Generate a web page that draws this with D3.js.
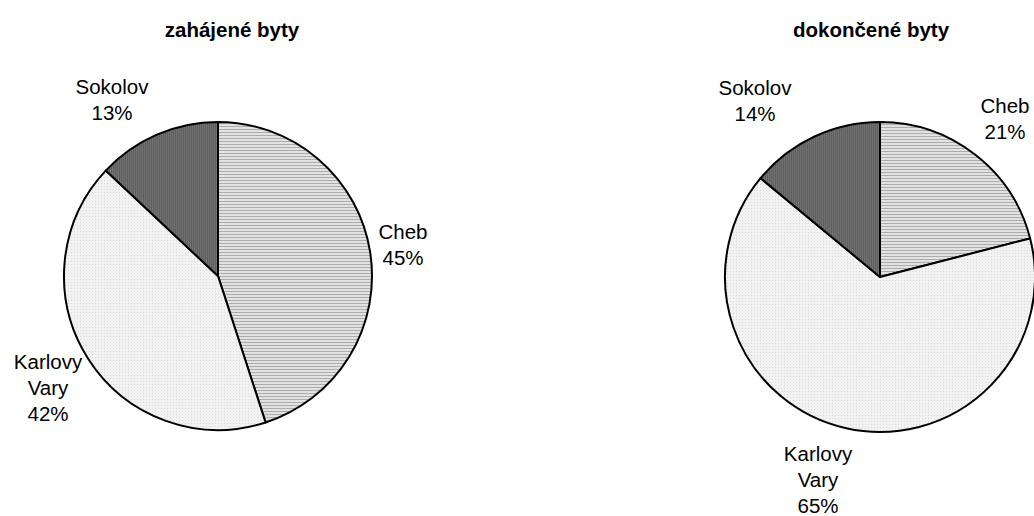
<!DOCTYPE html>
<html><head><meta charset="utf-8">
<script src="https://cdn.jsdelivr.net/npm/d3@7"></script>
<style>body{margin:0;background:#fff}svg{display:block}</style>
</head><body>
<svg id="c" width="1034" height="516"></svg>
<script>
// Data
const categories = ["Cheb", "Karlovy Vary", "Sokolov"];
const labelLines = [["Cheb"], ["Karlovy", "Vary"], ["Sokolov"]];
const startedValues = [45, 42, 13];   // zahájené byty (%)
const finishedValues = [21, 65, 14];  // dokončené byty (%)
const titles = ["zahájené byty", "dokončené byty"];

// Layout (not data)
const pies = [
  {title: titles[0], values: startedValues, cx: 218, cy: 276, r: 154, tx: 232,
   lab: [[185, -31], [-170, 112], [-106, -176]]},
  {title: titles[1], values: finishedValues, cx: 880, cy: 277, r: 155, tx: 871,
   lab: [[125, -158], [-62, 203], [-125, -176]]}
];
const FONT = "'Liberation Sans', Arial, sans-serif";

const svg = d3.select("#c");
const defs = svg.append("defs");
// Cheb: horizontal stripes
const p1 = defs.append("pattern").attr("id", "pCheb").attr("patternUnits", "userSpaceOnUse").attr("width", 4).attr("height", 3);
p1.append("rect").attr("width", 4).attr("height", 3).attr("fill", "#e2e2e2");
p1.append("rect").attr("width", 4).attr("height", 1).attr("fill", "#acacac");
// Karlovy Vary: light dotted grid
const p2 = defs.append("pattern").attr("id", "pKV").attr("patternUnits", "userSpaceOnUse").attr("width", 3).attr("height", 3);
p2.append("rect").attr("width", 3).attr("height", 3).attr("fill", "#f2f2f2");
p2.append("rect").attr("width", 1).attr("height", 1).attr("fill", "#dadada");
// Sokolov: dark with vertical stripes
const p3 = defs.append("pattern").attr("id", "pSok").attr("patternUnits", "userSpaceOnUse").attr("width", 2).attr("height", 3);
p3.append("rect").attr("width", 2).attr("height", 3).attr("fill", "#5e5e5e");
p3.append("rect").attr("width", 1).attr("height", 3).attr("fill", "#727272");

const color = d3.scaleOrdinal().domain(categories).range(["url(#pCheb)", "url(#pKV)", "url(#pSok)"]);

const pie = d3.pie().sort(null).value(d => d.v);

pies.forEach(P => {
  const g = svg.append("g").attr("transform", `translate(${P.cx},${P.cy})`);
  const data = categories.map((c, i) => ({c, v: P.values[i], i}));
  const arcs = pie(data);
  const arc = d3.arc().innerRadius(0).outerRadius(P.r);
  g.selectAll("path").data(arcs).join("path")
    .attr("d", arc)
    .attr("fill", d => color(d.data.c))
    .attr("stroke", "#000").attr("stroke-width", 2).attr("stroke-linejoin", "round");

  arcs.forEach((a, i) => {
    const lines = labelLines[i].concat([a.data.v + "%"]);
    const lh = 26;
    const [dx, dy] = P.lab[i];
    const t = g.append("text").attr("text-anchor", "middle")
      .attr("font-family", FONT).attr("font-size", 20.5).attr("fill", "#000");
    lines.forEach((ln, k) => {
      t.append("tspan").attr("x", dx)
        .attr("y", dy + (k - (lines.length - 1) / 2) * lh + 7)
        .text(ln);
    });
  });

  svg.append("text").attr("x", P.tx).attr("y", 37).attr("text-anchor", "middle")
    .attr("font-family", FONT).attr("font-weight", "bold").attr("font-size", 20.5)
    .attr("fill", "#000").text(P.title);
});
</script>
</body></html>
